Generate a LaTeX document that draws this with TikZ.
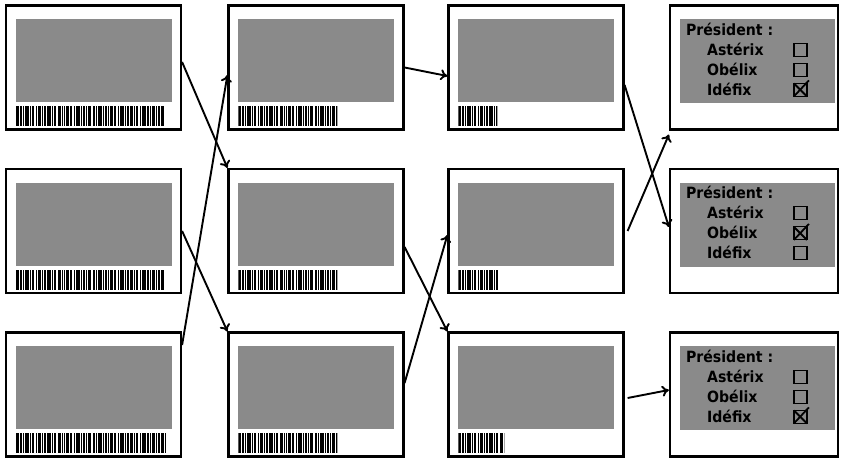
\documentclass[tikz,border=0pt]{standalone}
\usepackage{fontspec}
\setmainfont{DejaVu Sans}
\newfontfamily\votefont[FakeStretch=0.91]{DejaVu Sans}
\usepackage{tikz}
\usetikzlibrary{arrows.meta}

\definecolor{panelgray}{gray}{0.54}

\tikzset{
  card/.style={draw, line width=2.2pt, inner sep=0pt, minimum width=175pt, minimum height=124pt},
  votecard/.style={card, minimum width=168pt},
  vote/.style={inner sep=0pt, font=\votefont\bfseries\fontsize{15.5}{18}\selectfont},
  tickbox/.style={line width=1.2pt},
  link/.style={line width=1.9pt, -{To[length=7pt,width=11pt]}}
}

% barcode at a coordinate, cut to a length
\newcommand\barcode[2]{%
  \begin{scope}[shift={(#1)}]
    \clip (0,0) rectangle (#2,-20);
    \foreach \o/\w in {0/3,4/2,7/1,9/4,14/1,16/2,20/1,22/3,26/1,28/2,31/4,36/1,38/2,
      42/3,46/1,48/1,50/3,54/2,58/1,60/4,65/1,67/2,70/1,72/3,77/2,80/1,82/4,87/1,89/2,
      92/1,94/3,98/2,102/1,104/4,109/1,111/2,114/3,118/1,120/2,124/1,126/4,131/2,134/1,
      136/3,140/1,142/2,145/3,149/1}
      \fill (\o,0) rectangle ++(\w,-20);
  \end{scope}}

% ballot with the checked line #2
\newcommand\ballot[2]{%
  \fill[panelgray] ([shift={(11,-15)}]#1.north west) rectangle +(155,-84);
  \node[vote, anchor=base west] at ([shift={(17,-31)}]#1.north west) {Président :};
  \foreach \cand [count=\i] in {Astérix,Obélix,Idéfix} {
    \node[vote, anchor=base west] at ([shift={(38,-31-20*\i)}]#1.north west) {\cand};
    \draw[tickbox] ([shift={(125,-19-20*\i)}]#1.north west) rectangle +(13,-13);
    \ifnum\i=#2
      \draw[tickbox, line width=1.8pt] ([shift={(125,-19-20*\i)}]#1.north west) -- +(13,-13);
      \draw[tickbox, line width=1.8pt] ([shift={(140,-16-20*\i)}]#1.north west) -- +(-15,-16);
    \fi
  }}

\begin{document}
\begin{tikzpicture}[x=1pt, y=1pt]
    \useasboundingbox (0,0) rectangle (841,461);

    % tickets with barcodes
    \node[card] (a1) at (93.5,393.5) {};
    \node[card] (a2) at (93.5,230) {};
    \node[card] (a3) at (93.5,66.5) {};
    \node[card] (b1) at (316,393.5) {};
    \node[card] (b2) at (316,230) {};
    \node[card] (b3) at (316,66.5) {};
    \node[card] (c1) at (536,393.5) {};
    \node[card] (c2) at (536,230) {};
    \node[card] (c3) at (536,66.5) {};
    \foreach \n/\len in {a1/148,a2/149,a3/151,b1/99,b2/99,b3/99,c1/39,c2/41,c3/46} {
      \fill[panelgray] ([shift={(11,-15)}]\n.north west) rectangle +(156,-83);
      \path ([shift={(11,-102)}]\n.north west) coordinate (\n-bar);
      \barcode{\n-bar}{\len}
    }

    % ballots
    \node[votecard] (d1) at (754,393.5) {};
    \node[votecard] (d2) at (754,230) {};
    \node[votecard] (d3) at (754,66.5) {};
    \ballot{d1}{3}
    \ballot{d2}{2}
    \ballot{d3}{3}

    % mixing
    \draw[link] ([yshift=5.5]a1.east) -- (b2.north west);
    \draw[link] ([yshift=49.5]a3.east) -- ([yshift=-7.5]b1.west);
    \draw[link] (a2.east) -- (b3.north west);
    \draw[link] (b1.east) -- ([yshift=-8.5]c1.west);
    \draw[link] ([yshift=-16]b2.east) -- (c3.north west);
    \draw[link] ([yshift=11.5]b3.east) -- ([yshift=-4]c2.west);
    \draw[link] ([yshift=-17.5]c1.east) -- ([yshift=4]d2.west);
    \draw[link] ([xshift=3]c2.east) -- ([yshift=-4]d1.south west);
    \draw[link] ([xshift=3,yshift=-3.5]c3.east) -- ([yshift=4.5]d3.west);
  \end{tikzpicture}
\end{document}
